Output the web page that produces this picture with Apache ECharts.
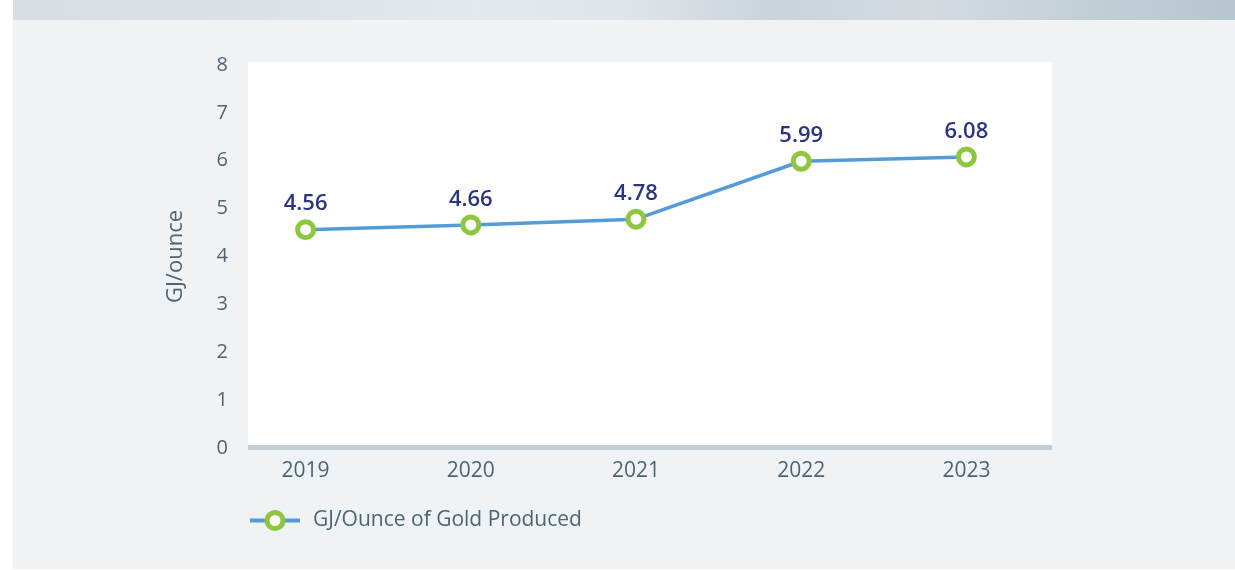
<!DOCTYPE html>
<html>
<head>
<meta charset="utf-8">
<script src="https://cdn.jsdelivr.net/npm/echarts@6/dist/echarts.min.js"></script>
<style>
html,body{margin:0;padding:0;background:#ffffff;}
#panel{position:absolute;left:13px;top:0;width:1222px;height:569px;background:#eff3f6;}
#band{position:absolute;left:0;top:0;width:100%;height:20px;
 background:linear-gradient(90deg,#d6dde3 0%,#dbe2e7 20%,#e4e9ed 38%,#dfe5ea 50%,#cad4db 62%,#d3dbe1 75%,#c3cfd7 88%,#b8c6cf 100%);}
#chart{position:absolute;left:0;top:0;width:1235px;height:570px;}
</style>
</head>
<body>
<div id="panel"><div id="band"></div></div>
<div id="chart"></div>
<script>
const categories = ['2019', '2020', '2021', '2022', '2023'];
const seriesName = 'GJ/Ounce of Gold Produced';
const values = [4.56, 4.66, 4.78, 5.99, 6.08];
const yTicks = { min: 0, max: 8, interval: 1 };
const yAxisName = 'GJ/ounce';

const textColor = '#4f6473';
const chart = echarts.init(document.getElementById('chart'), null, { renderer: 'canvas' });
chart.setOption({
  backgroundColor: 'transparent',
  animation: false,
  textStyle: { fontFamily: 'Open Sans' },
  graphic: [
    { type: 'rect', z: -10, silent: true, shape: { x: 248, y: 62, width: 804, height: 384 }, style: { fill: '#ffffff' } },
    { type: 'rect', z: -9, silent: true, shape: { x: 248, y: 445, width: 804, height: 5 }, style: { fill: '#c0ced6' } }
  ],
  grid: { left: 223, right: 186, top: 65, bottom: 122, containLabel: false },
  xAxis: {
    type: 'category',
    data: categories,
    boundaryGap: true,
    axisLine: { show: false },
    axisTick: { show: false },
    axisLabel: { color: textColor, fontSize: 21, margin: 13, fontFamily: 'Open Sans' }
  },
  yAxis: {
    type: 'value',
    min: yTicks.min, max: yTicks.max, interval: yTicks.interval,
    offset: -13,
    name: yAxisName,
    nameLocation: 'middle',
    nameGap: 49,
    nameTextStyle: { color: textColor, fontSize: 22, fontFamily: 'Open Sans' },
    axisLine: { show: false },
    axisTick: { show: false },
    splitLine: { show: false },
    axisLabel: { color: textColor, fontSize: 20, margin: 8, fontFamily: 'Open Sans' }
  },
  legend: {
    show: true,
    left: 243,
    top: 505,
    itemWidth: 50,
    itemHeight: 20,
    data: [seriesName],
    lineStyle: { width: 4, color: '#549bd7' },
    itemStyle: { color: '#ffffff', borderColor: '#8dc63f', borderWidth: 5 },
    textStyle: { color: textColor, fontSize: 21, fontFamily: 'Open Sans', padding: [0, 0, 0, 8] }
  },
  series: [{
    name: seriesName,
    type: 'line',
    data: values,
    symbol: 'circle',
    symbolSize: 16,
    lineStyle: { color: '#549bd7', width: 3.5 },
    itemStyle: { color: '#ffffff', borderColor: '#8dc63f', borderWidth: 5 },
    label: {
      show: true,
      position: 'top',
      distance: 4,
      color: '#2b347f',
      fontSize: 22,
      fontWeight: 600,
      fontFamily: 'Open Sans',
      formatter: p => p.value.toFixed(2)
    }
  }]
});
</script>
</body>
</html>
